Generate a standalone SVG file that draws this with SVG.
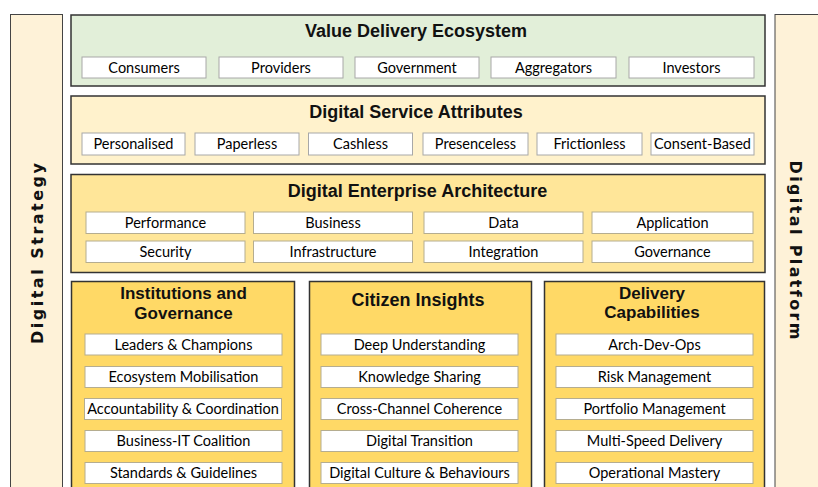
<svg xmlns="http://www.w3.org/2000/svg" width="818" height="487" viewBox="0 0 818 487">
<style>
.bg{fill:#ffffff}
.side{fill:#fef2d8;stroke:#444;stroke-width:1}
.panel{stroke:#333;stroke-width:1.5}
.green{fill:#e2efd9}
.cream{fill:#fff2cc}
.yel1{fill:#ffe699}
.yel2{fill:#ffd966}
.item{fill:#ffffff;stroke:#b5ad90;stroke-width:1}
.itemg{fill:#ffffff;stroke:#a8a8a8;stroke-width:1}
.title{font-family:"Liberation Sans",Arial,sans-serif;font-weight:bold;font-size:18px;fill:#111;text-anchor:middle}
.title2{font-family:"Liberation Sans",Arial,sans-serif;font-weight:bold;font-size:17px;fill:#111;text-anchor:middle}
.lbl{font-family:Lato,"Liberation Sans",sans-serif;font-size:14.5px;fill:#000;text-anchor:middle}
.sidet{font-family:"DejaVu Sans",Verdana,sans-serif;font-weight:bold;font-size:16px;fill:#111;text-anchor:middle}
</style>
<rect class="bg" x="0" y="0" width="818" height="487"/>

<g id="digital-strategy">
<rect class="side" x="10.5" y="14.5" width="52" height="480"/>
<text class="sidet" transform="translate(42.5,253.5) rotate(-90)" textLength="181" lengthAdjust="spacing">Digital Strategy</text>
</g>

<g id="digital-platform">
<rect class="side" x="775" y="14.5" width="60" height="480"/>
<text class="sidet" transform="translate(789.5,250) rotate(90)" textLength="179" lengthAdjust="spacing">Digital Platform</text>
</g>

<g id="value-delivery-ecosystem">
<rect class="panel green" x="71" y="15" width="694" height="71"/>
<text class="title" x="416" y="37">Value Delivery Ecosystem</text>
<rect class="itemg" x="82" y="57" width="124" height="21"/><text class="lbl" x="144" y="72.5">Consumers</text>
<rect class="itemg" x="219" y="57" width="124" height="21"/><text class="lbl" x="281" y="72.5">Providers</text>
<rect class="itemg" x="355" y="57" width="124" height="21"/><text class="lbl" x="417" y="72.5">Government</text>
<rect class="itemg" x="491" y="57" width="125" height="21"/><text class="lbl" x="553.5" y="72.5">Aggregators</text>
<rect class="itemg" x="629" y="57" width="125" height="21"/><text class="lbl" x="691.5" y="72.5">Investors</text>
</g>

<g id="digital-service-attributes">
<rect class="panel cream" x="71" y="96" width="694" height="68"/>
<text class="title" x="416" y="118">Digital Service Attributes</text>
<rect class="itemg" x="82" y="133" width="103" height="22"/><text class="lbl" x="133.5" y="149">Personalised</text>
<rect class="itemg" x="195" y="133" width="104" height="22"/><text class="lbl" x="247" y="149">Paperless</text>
<rect class="itemg" x="308.5" y="133" width="104" height="22"/><text class="lbl" x="360.5" y="149">Cashless</text>
<rect class="itemg" x="423" y="133" width="105" height="22"/><text class="lbl" x="475.5" y="149">Presenceless</text>
<rect class="itemg" x="537" y="133" width="105" height="22"/><text class="lbl" x="589.5" y="149">Frictionless</text>
<rect class="itemg" x="651" y="133" width="103" height="22"/><text class="lbl" x="702.5" y="149">Consent-Based</text>
</g>

<g id="digital-enterprise-architecture">
<rect class="panel yel1" x="71" y="174.5" width="694" height="98"/>
<text class="title" x="417.5" y="196.5">Digital Enterprise Architecture</text>
<rect class="item" x="86" y="212" width="159" height="21.5"/><text class="lbl" x="165.5" y="227.5">Performance</text>
<rect class="item" x="253.5" y="212" width="159" height="21.5"/><text class="lbl" x="333" y="227.5">Business</text>
<rect class="item" x="424" y="212" width="159" height="21.5"/><text class="lbl" x="503.5" y="227.5">Data</text>
<rect class="item" x="592" y="212" width="161" height="21.5"/><text class="lbl" x="672.5" y="227.5">Application</text>
<rect class="item" x="86" y="241" width="159" height="21.5"/><text class="lbl" x="165.5" y="256.5">Security</text>
<rect class="item" x="253.5" y="241" width="159" height="21.5"/><text class="lbl" x="333" y="256.5">Infrastructure</text>
<rect class="item" x="424" y="241" width="159" height="21.5"/><text class="lbl" x="503.5" y="256.5">Integration</text>
<rect class="item" x="592" y="241" width="161" height="21.5"/><text class="lbl" x="672.5" y="256.5">Governance</text>
</g>

<g id="institutions-and-governance">
<rect class="panel yel2" x="71.5" y="281.5" width="223" height="220"/>
<text class="title2" x="183.5" y="299.3">Institutions and</text>
<text class="title2" x="183.5" y="318.6">Governance</text>
<rect class="item" x="85" y="334" width="197" height="21"/><text class="lbl" x="183.5" y="349.5">Leaders &amp; Champions</text>
<rect class="item" x="85" y="366.5" width="197" height="21"/><text class="lbl" x="183.5" y="382">Ecosystem Mobilisation</text>
<rect class="item" x="84.5" y="398.5" width="197" height="21"/><text class="lbl" x="183" y="414">Accountability &amp; Coordination</text>
<rect class="item" x="85" y="430.5" width="197" height="21"/><text class="lbl" x="183.5" y="446">Business-IT Coalition</text>
<rect class="item" x="85" y="462.5" width="197" height="21"/><text class="lbl" x="183.5" y="478">Standards &amp; Guidelines</text>
</g>

<g id="citizen-insights">
<rect class="panel yel2" x="309.5" y="281.5" width="222" height="220"/>
<text class="title" x="418" y="305.5">Citizen Insights</text>
<rect class="item" x="321" y="334" width="197" height="21"/><text class="lbl" x="419.5" y="349.5">Deep Understanding</text>
<rect class="item" x="321" y="366.5" width="197" height="21"/><text class="lbl" x="419.5" y="382">Knowledge Sharing</text>
<rect class="item" x="321" y="398.5" width="197" height="21"/><text class="lbl" x="419.5" y="414">Cross-Channel Coherence</text>
<rect class="item" x="321" y="430.5" width="197" height="21"/><text class="lbl" x="419.5" y="446">Digital Transition</text>
<rect class="item" x="321" y="462.5" width="197" height="21"/><text class="lbl" x="419.5" y="478">Digital Culture &amp; Behaviours</text>
</g>

<g id="delivery-capabilities">
<rect class="panel yel2" x="544.5" y="281.5" width="220" height="220"/>
<text class="title2" x="652" y="298.8">Delivery</text>
<text class="title2" x="652" y="318.1">Capabilities</text>
<rect class="item" x="556" y="334" width="197" height="21"/><text class="lbl" x="654.5" y="349.5">Arch-Dev-Ops</text>
<rect class="item" x="556" y="366.5" width="197" height="21"/><text class="lbl" x="654.5" y="382">Risk Management</text>
<rect class="item" x="556" y="398.5" width="197" height="21"/><text class="lbl" x="654.5" y="414">Portfolio Management</text>
<rect class="item" x="556" y="430.5" width="197" height="21"/><text class="lbl" x="654.5" y="446">Multi-Speed Delivery</text>
<rect class="item" x="556" y="462.5" width="197" height="21"/><text class="lbl" x="654.5" y="478">Operational Mastery</text>
</g>
</svg>
